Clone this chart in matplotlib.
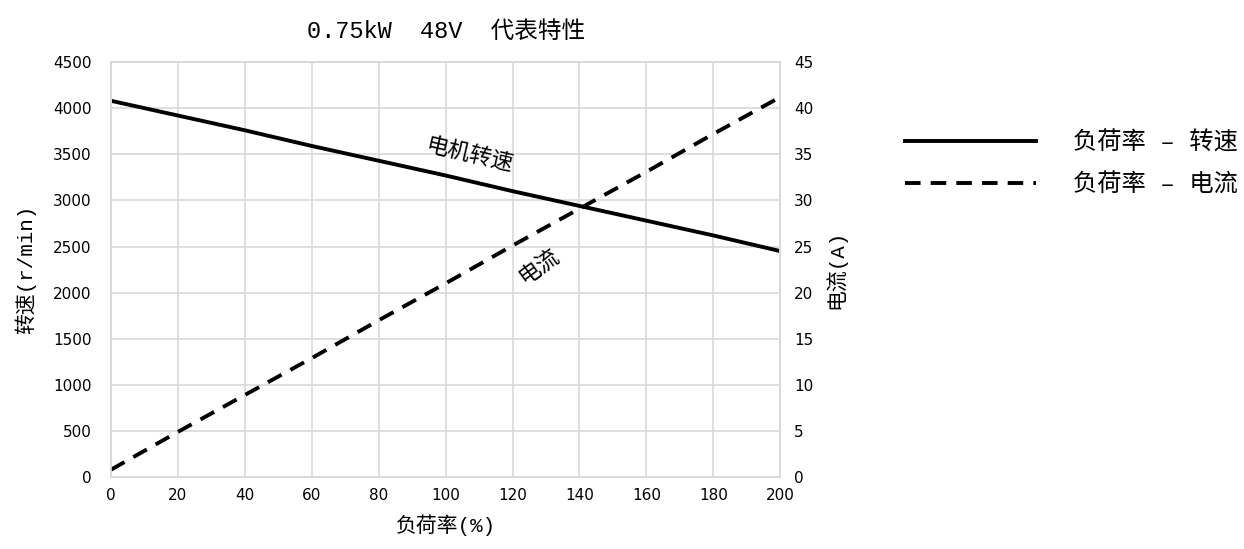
import matplotlib
matplotlib.use('Agg')
import matplotlib.pyplot as plt

# 数据
load_rate = [0, 20, 40, 60, 80, 100, 120, 140, 160, 180, 200]
speed = [4080, 3920, 3760, 3590, 3430, 3270, 3100, 2940, 2780, 2620, 2450]
current = [0.8, 4.9, 8.9, 12.9, 17.0, 21.0, 25.1, 29.1, 33.1, 37.2, 41.2]

x_ticks = list(range(0, 201, 20))
speed_ticks = list(range(0, 4501, 500))
current_ticks = list(range(0, 46, 5))

cjk = ['Liberation Mono', 'Noto Sans CJK SC']
tick_font = 'DejaVu Sans'

fig = plt.figure(figsize=(12.44, 5.49), dpi=100)
ax1 = fig.add_axes([0.0892, 0.131, 0.538, 0.756])
ax2 = ax1.twinx()

l1, = ax1.plot(load_rate, speed, color='black', linewidth=2.8, label='负荷率 – 转速')
l2, = ax2.plot(load_rate, current, color='black', linewidth=2.8, dashes=(4, 2.6), label='负荷率 – 电流')

ax1.set_xlim(0, 200)
ax1.set_ylim(0, 4500)
ax2.set_ylim(0, 45)
ax1.set_xticks(x_ticks)
ax1.set_yticks(speed_ticks)
ax2.set_yticks(current_ticks)

ax1.grid(True, color='#d9d9d9', linewidth=1.2)
ax1.set_axisbelow(True)
for ax in (ax1, ax2):
    for s in ax.spines.values():
        s.set_color('#d9d9d9')
        s.set_linewidth(1.2)
    ax.tick_params(length=0, labelsize=11, pad=8)
    for lab in ax.get_xticklabels() + ax.get_yticklabels():
        lab.set_family(tick_font)
ax1.tick_params(axis='y', pad=14)
ax2.tick_params(axis='y', pad=10)

ax1.set_xlabel('负荷率(%)', family=cjk, fontsize=15, labelpad=8)
ax1.set_ylabel('转速(r/min)', family=cjk, fontsize=15, labelpad=12)
ax2.set_ylabel('电流(A)', family=cjk, fontsize=15, labelpad=8)
ax1.set_title('0.75kW  48V  代表特性', family=cjk, fontsize=17, pad=17)

# 曲线标注
ax1.text(107, 3490, '电机转速', family=cjk, fontsize=16, rotation=-13,
         ha='center', va='center')
ax1.text(128, 2270, '电流', family=cjk, fontsize=16, rotation=36,
         ha='center', va='center')

fig.legend(handles=[l1, l2], loc='upper left', bbox_to_anchor=(0.71, 0.80),
           frameon=False, handlelength=5.4, handletextpad=1.5,
           labelspacing=0.75, prop={'family': cjk, 'size': 17.5})

fig.savefig('out.png', dpi=100)
